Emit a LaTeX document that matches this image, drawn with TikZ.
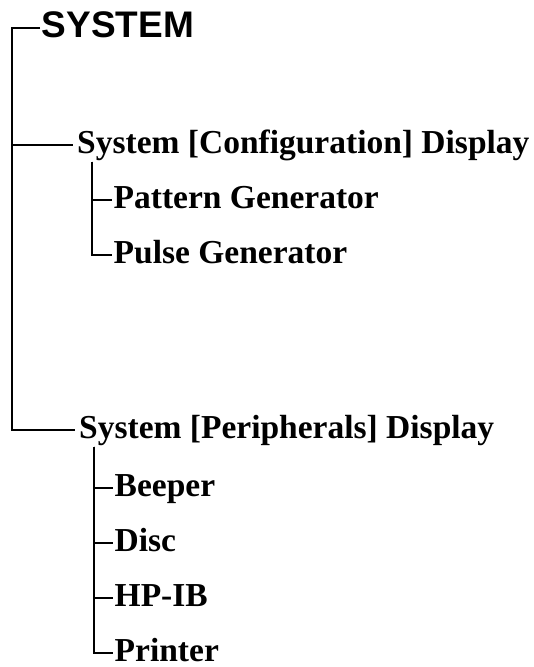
\documentclass[tikz,border=0pt]{standalone}
\usepackage{fontspec}
\setmainfont{Liberation Serif}
\newfontfamily\headfont{Liberation Sans}
\usepackage{tikz}
\usetikzlibrary{positioning,calc}

\begin{document}
\begin{tikzpicture}[x=1pt, y=-1pt,
    label/.style={anchor=west, inner sep=1.5pt, text height=23pt, text depth=7pt,
        font=\fontsize{33.5}{40}\selectfont\bfseries},
    heading/.style={label, inner xsep=4pt},
    branch/.style={line width=1.6pt, black}]
    \useasboundingbox (0,0) rectangle (534,667);

    % Racine
    \node[label, text height=26pt, text depth=8pt,
        font=\fontsize{37}{40}\selectfont\headfont\bfseries] (sys) at (40,28) {SYSTEM};
    \coordinate (trunk) at (12,28);

    % Branches principales
    \node[heading] (cfg) at (73,145) {System [Configuration] Display};
    \node[heading] (per) at (75,430) {System [Peripherals] Display};
    \draw[branch] (sys.west) -- (trunk) |- (per.west);
    \draw[branch] (trunk) |- (cfg.west);

    % Configuration
    \coordinate (cfgstem) at ($(cfg.south west)+(19,0)$);
    \foreach \n/\t/\y in {pat/Pattern Generator/200, pul/Pulse Generator/255} {
        \node[label] (\n) at (112,\y) {\t};
        \draw[branch] (cfgstem) |- (\n.west);
    }

    % Peripheriques
    \coordinate (perstem) at ($(per.south west)+(19,0)$);
    \foreach \n/\t/\y in {bee/Beeper/488, dsc/Disc/543, hpib/HP-IB/598, prn/Printer/653} {
        \node[label] (\n) at (113,\y) {\t};
        \draw[branch] (perstem) |- (\n.west);
    }
\end{tikzpicture}
\end{document}
